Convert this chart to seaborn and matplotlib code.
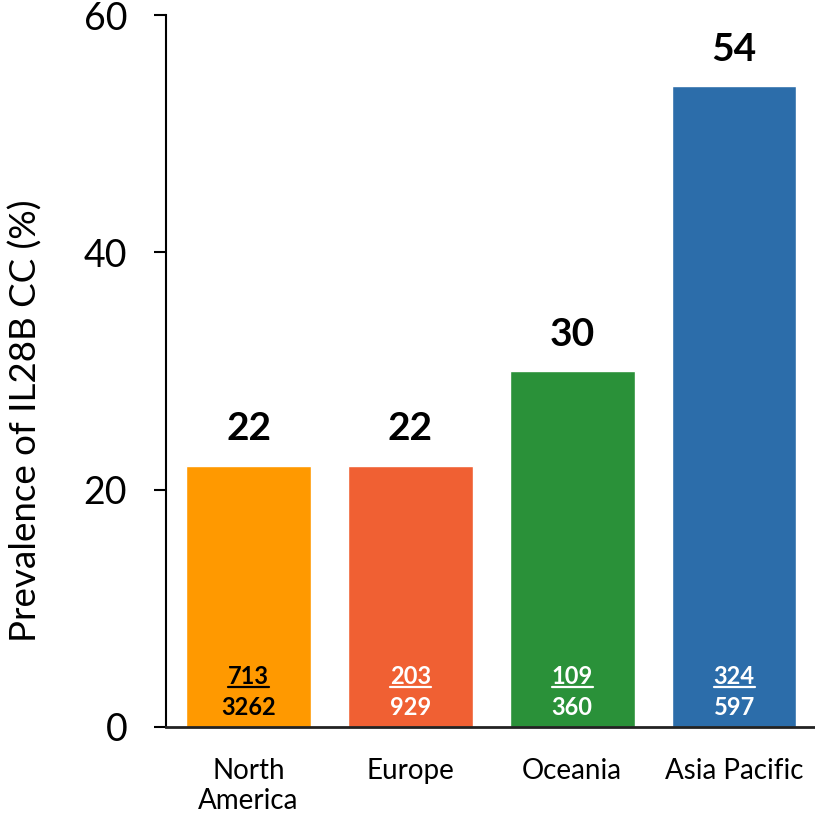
import matplotlib
matplotlib.use("Agg")
import matplotlib.pyplot as plt
import seaborn as sns
import pandas as pd
from matplotlib.lines import Line2D

regions = ["North\nAmerica", "Europe", "Oceania", "Asia Pacific"]
prevalence = [22, 22, 30, 54]
cc_counts = [713, 203, 109, 324]
totals = [3262, 929, 360, 597]
bar_colors = ["#FF9900", "#F06033", "#2A9139", "#2C6DAA"]
count_colors = ["black", "white", "white", "white"]

sns.set_style("ticks")
plt.rcParams["font.family"] = ["Lato", "DejaVu Sans"]
plt.rcParams.update({"text.color": "black", "axes.labelcolor": "black",
                     "xtick.color": "black", "ytick.color": "black"})

df = pd.DataFrame({"region": regions, "prevalence": prevalence})

fig = plt.figure(figsize=(8.15, 8.21), dpi=100)
ax = fig.add_axes([0.2037, 0.1145, 0.7963, 0.8672])

sns.barplot(data=df, x="region", y="prevalence", hue="region",
            palette=bar_colors, width=0.77, saturation=1, legend=False, ax=ax)

ax.set_ylim(0, 60)
ax.set_xlim(-0.51, 3.5)
ax.set_yticks([0, 20, 40, 60])
ax.set_xlabel("")
ax.set_ylabel("Prevalence of IL28B CC (%)", fontsize=26.5)
ax.yaxis.set_label_coords(-0.19, 0.43)
ax.tick_params(axis="y", labelsize=27, length=9, width=1.5, pad=19, direction="out")
ax.tick_params(axis="x", labelsize=20, length=0, pad=22)

sns.despine(ax=ax, top=True, right=True)
ax.spines["left"].set_linewidth(1.5)
ax.spines["left"].set_color("black")
ax.spines["bottom"].set_linewidth(2)
ax.spines["bottom"].set_color("#222222")

for cont in ax.containers:
    ax.bar_label(cont, fontsize=28, fontweight="bold", padding=14)

num_texts = []
for i in range(len(regions)):
    t = ax.annotate(str(cc_counts[i]), xy=(i, 0), xytext=(0, 36),
                    textcoords="offset points", ha="center", va="center",
                    fontsize=17, fontweight="bold", color=count_colors[i])
    num_texts.append(t)
    ax.annotate(str(totals[i]), xy=(i, 0), xytext=(0, 14),
                textcoords="offset points", ha="center", va="center",
                fontsize=17, fontweight="bold", color=count_colors[i])

# underline the numerators
fig.canvas.draw()
renderer = fig.canvas.get_renderer()
inv = fig.transFigure.inverted()
for i, t in enumerate(num_texts):
    bb = t.get_window_extent(renderer)
    (x0, y0), (x1, _) = inv.transform([(bb.x0, bb.y0 + 1), (bb.x1, bb.y0)])
    fig.add_artist(Line2D([x0, x1], [y0, y0], transform=fig.transFigure,
                          color=count_colors[i], linewidth=1.6))

fig.savefig("out.png", dpi=100)
